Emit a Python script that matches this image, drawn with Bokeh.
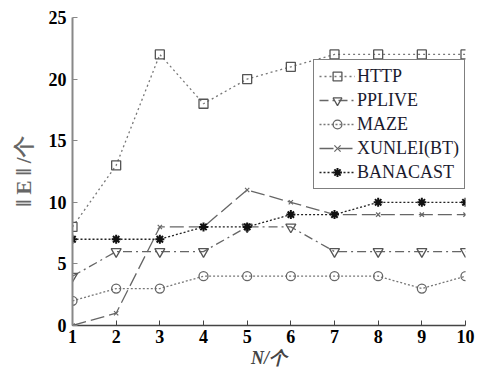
from bokeh.plotting import figure
from bokeh.models import Legend, LegendItem, Range1d, FixedTicker
from bokeh.embed import file_html
from bokeh.resources import INLINE

N = [1, 2, 3, 4, 5, 6, 7, 8, 9, 10]
http = [8, 13, 22, 18, 20, 21, 22, 22, 22, 22]
pplive = [4, 6, 6, 6, 8, 8, 6, 6, 6, 6]
maze = [2, 3, 3, 4, 4, 4, 4, 4, 3, 4]
xunlei = [0, 1, 8, 8, 11, 10, 9, 9, 9, 9]
banacast = [7, 7, 7, 8, 8, 9, 9, 10, 10, 10]
names = ["HTTP", "PPLIVE", "MAZE", "XUNLEI(BT)", "BANACAST"]
x_ticks = list(range(1, 11))
y_ticks = [0, 5, 10, 15, 20, 25]

p = figure(width=479, height=370, output_backend="svg", toolbar_location=None,
           x_range=Range1d(1, 10), y_range=Range1d(0, 25),
           min_border_left=72, min_border_right=14, min_border_top=17, min_border_bottom=44)
p.grid.visible = False
p.outline_line_color = None
p.background_fill_color = "white"

serif = "Liberation Serif"
for ax in (p.xaxis[0], p.yaxis[0]):
    ax.major_label_text_font = serif
    ax.major_label_text_font_style = "bold"
    ax.major_label_text_font_size = "18px"
    ax.major_label_text_color = "black"
    ax.major_tick_in = 5
    ax.major_tick_out = 0
    ax.minor_tick_in = 0
    ax.minor_tick_out = 0
    ax.axis_label_text_font = serif
p.xaxis.ticker = FixedTicker(ticks=x_ticks)
p.yaxis.ticker = FixedTicker(ticks=y_ticks)
p.yaxis.axis_line_color = "#888888"
p.yaxis.axis_line_width = 2
p.yaxis.major_tick_line_color = "#888888"
p.xaxis.axis_line_color = "#444444"
p.xaxis.axis_line_width = 1.5
p.xaxis.major_tick_line_color = "#444444"
p.xaxis.major_label_standoff = 4
p.yaxis.major_label_standoff = 6
p.xaxis.axis_label = "N/个"
p.xaxis.axis_label_text_font_style = "bold italic"
p.xaxis.axis_label_text_font_size = "18px"
p.xaxis.axis_label_standoff = 2
p.yaxis.axis_label = "‖ E ‖ /个"
p.yaxis.axis_label_text_font_style = "bold"
p.yaxis.axis_label_text_font_size = "21px"
p.yaxis.axis_label_text_color = "#666666"
p.yaxis.axis_label_standoff = 10

items = []
l1 = p.line(N, http, line_color="#777777", line_dash="2 3", line_width=1.3)
m1 = p.scatter(N, http, marker="square", size=9, line_color="#555555", fill_color=None, line_width=1.3)
items.append(LegendItem(label=names[0], renderers=[l1, m1]))
l2 = p.line(N, pplive, line_color="#666666", line_dash="9 4 2 4", line_width=1.3)
m2 = p.scatter(N, pplive, marker="inverted_triangle", size=10, line_color="#555555", fill_color=None, line_width=1.3)
items.append(LegendItem(label=names[1], renderers=[l2, m2]))
l3 = p.line(N, maze, line_color="#777777", line_dash="2 2", line_width=1.3)
m3 = p.scatter(N, maze, marker="circle", size=9, line_color="#666666", fill_color=None, line_width=1.3)
items.append(LegendItem(label=names[2], renderers=[l3, m3]))
l4 = p.line(N, xunlei, line_color="#666666", line_dash="14 5", line_width=1.3)
m4 = p.scatter(N, xunlei, marker="x", size=6, line_color="#666666", line_width=1.2)
items.append(LegendItem(label=names[3], renderers=[l4, m4]))
l5 = p.line(N, banacast, line_color="#222222", line_dash="2 2", line_width=1.3)
m5 = p.scatter(N, banacast, marker="asterisk", size=9, line_color="#111111", line_width=2)
items.append(LegendItem(label=names[4], renderers=[l5, m5]))

legend = Legend(items=items, location=(241, 136), orientation="vertical",
                label_text_font=serif, label_text_font_size="18px", label_text_color="#1a1a2e",
                glyph_width=36, glyph_height=22, label_standoff=2, spacing=2,
                padding=5, margin=0, border_line_color="black", border_line_width=1.2,
                background_fill_color="white", background_fill_alpha=1.0, label_height=22)
p.add_layout(legend, "center")

open("out.html", "w").write(file_html(p, INLINE))
